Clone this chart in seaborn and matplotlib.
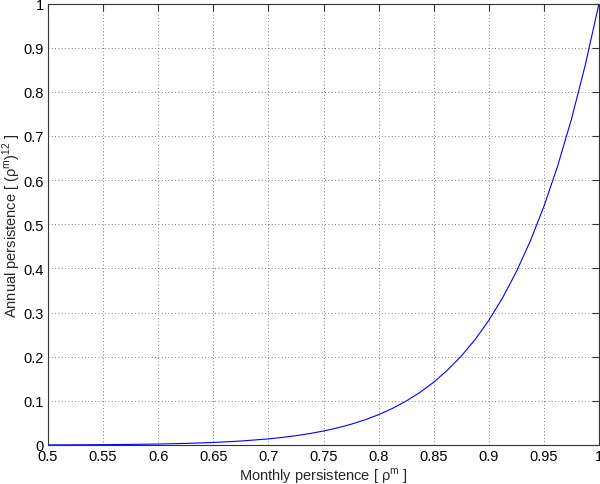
import numpy as np
import pandas as pd
import matplotlib
matplotlib.use("Agg")
import matplotlib.pyplot as plt
import seaborn as sns

# values (monthly -> annual persistence)
monthly = [0.5, 0.525, 0.55, 0.575, 0.6, 0.625, 0.65, 0.675, 0.7, 0.7125,
           0.725, 0.7375, 0.75, 0.7625, 0.775, 0.7875, 0.8, 0.8125, 0.825,
           0.8375, 0.85, 0.8625, 0.875, 0.8875, 0.9, 0.9125, 0.925, 0.9375,
           0.95, 0.9625, 0.975, 0.9875, 1.0]
annual = [0.0002, 0.0004, 0.0008, 0.0013, 0.0022, 0.0036, 0.0057, 0.0090,
          0.0138, 0.0171, 0.0211, 0.0259, 0.0317, 0.0386, 0.0470, 0.0569,
          0.0687, 0.0828, 0.0995, 0.1191, 0.1422, 0.1697, 0.2014, 0.2386,
          0.2824, 0.3332, 0.3926, 0.4610, 0.5404, 0.6322, 0.7380, 0.8602, 1.0]

xticks = [0.5, 0.55, 0.6, 0.65, 0.7, 0.75, 0.8, 0.85, 0.9, 0.95, 1]
yticks = [0, 0.1, 0.2, 0.3, 0.4, 0.5, 0.6, 0.7, 0.8, 0.9, 1]
xlabels = ["0.5", "0.55", "0.6", "0.65", "0.7", "0.75", "0.8", "0.85", "0.9", "0.95", "1"]
ylabels = ["0", "0.1", "0.2", "0.3", "0.4", "0.5", "0.6", "0.7", "0.8", "0.9", "1"]

df = pd.DataFrame({"monthly": monthly, "annual": annual})

sns.set_style("white")
plt.rcParams['font.family'] = ['Liberation Sans', 'DejaVu Sans']
plt.rcParams['mathtext.fontset'] = 'custom'
plt.rcParams['mathtext.rm'] = 'Liberation Sans'

fig = plt.figure(figsize=(6, 4.85), dpi=100)
ax = fig.add_axes([48 / 600, 1 - 446 / 485, 551 / 600, 441.5 / 485])

sns.lineplot(data=df, x="monthly", y="annual", ax=ax, color="#0000ff",
             linewidth=0.8)

ax.set_xlim(0.5, 1)
ax.set_ylim(0, 1)
ax.set_xticks(xticks)
ax.set_xticklabels(xlabels)
ax.set_yticks(yticks)
ax.set_yticklabels(ylabels)
ax.tick_params(direction="in", length=5, width=0.8, labelsize=10.5,
               colors="#333333", labelcolor="black", top=True, right=True,
               pad=3)
ax.grid(True, linestyle=(0, (1, 3)), color="#555555", linewidth=0.6)
for s in ax.spines.values():
    s.set_color("#333333")
    s.set_linewidth(0.8)

ax.set_xlabel(r"Monthly persistence [ ρ$^{\mathrm{m}}$ ]", fontsize=10.5,
              va="center")
ax.set_ylabel(r"Annual persistence [ (ρ$^{\mathrm{m}}$)$^{\mathrm{12}}$ ]", fontsize=10.5,
              va="center")
ax.xaxis.set_label_coords(0.5, -0.068)
ax.yaxis.set_label_coords(-0.065, 0.5)

fig.savefig("out.png", dpi=100)
